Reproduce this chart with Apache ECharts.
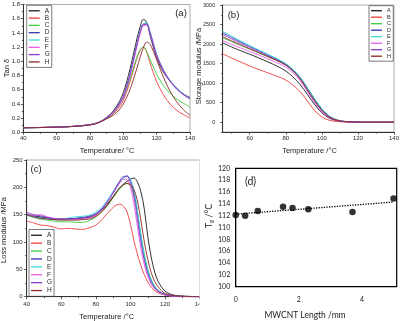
<!DOCTYPE html>
<html><head><meta charset="utf-8">
<script src="https://cdn.jsdelivr.net/npm/echarts@6/dist/echarts.min.js"></script>
<style>html,body{margin:0;padding:0;background:#fff}#c{width:414px;height:321px}</style>
</head><body><div id="c"></div>
<script>
const seriesNames = ['A','B','C','D','E','F','G','H'];
const seriesColors = ['#1a1a1a','#f03c3c','#3ccc3c','#3232b4','#3cdcdc','#e65ae6','#8c3cc8','#8c2828'];

// (a) Tan delta
const tempTan = [40,50,60,70,80,85,90,94,98,100,102,104,106,108,110,112,114,116,118,120,124,128,132,136,140];
const tanA = [0.065,0.068,0.074,0.084,0.108,0.140,0.210,0.30,0.45,0.56,0.71,0.89,1.09,1.30,1.48,1.59,1.55,1.37,1.20,1.05,0.85,0.72,0.62,0.54,0.49];
const tanB = [0.064,0.067,0.073,0.083,0.105,0.135,0.195,0.26,0.37,0.45,0.57,0.71,0.87,1.03,1.15,1.20,1.13,0.98,0.84,0.71,0.53,0.40,0.31,0.25,0.20];
const tanC = [0.064,0.067,0.073,0.083,0.105,0.135,0.195,0.27,0.40,0.48,0.60,0.74,0.90,1.05,1.16,1.20,1.14,1.03,0.92,0.82,0.66,0.55,0.47,0.41,0.36];
const tanD = [0.064,0.067,0.073,0.083,0.106,0.137,0.200,0.28,0.41,0.50,0.64,0.81,1.01,1.22,1.41,1.52,1.53,1.41,1.25,1.09,0.88,0.73,0.62,0.54,0.48];
const tanE = [0.064,0.067,0.073,0.083,0.106,0.137,0.200,0.28,0.41,0.50,0.64,0.82,1.02,1.23,1.42,1.53,1.54,1.42,1.26,1.10,0.88,0.73,0.62,0.54,0.48];
const tanF = [0.065,0.068,0.074,0.084,0.107,0.138,0.200,0.28,0.40,0.49,0.62,0.79,0.98,1.19,1.38,1.50,1.51,1.40,1.24,1.08,0.87,0.72,0.61,0.53,0.47];
const tanG = [0.065,0.068,0.074,0.084,0.107,0.138,0.202,0.29,0.42,0.51,0.65,0.82,1.02,1.23,1.41,1.52,1.52,1.40,1.24,1.08,0.87,0.72,0.61,0.53,0.47];
const tanH = [0.064,0.067,0.072,0.082,0.104,0.132,0.190,0.24,0.33,0.40,0.49,0.60,0.74,0.89,1.05,1.19,1.27,1.24,1.14,1.02,0.78,0.58,0.43,0.32,0.24];

// (b) Storage modulus
const tempStor = [45,50,55,60,65,70,75,80,84,88,92,96,100,104,108,112,116,120,130,140];
const storA = [2030,1925,1830,1740,1645,1545,1440,1310,1160,960,710,450,240,105,42,16,6,2,0,0];
const storB = [1750,1640,1540,1440,1350,1265,1180,1080,950,780,540,300,135,52,20,8,3,1,0,0];
const storC = [2160,2060,1965,1870,1775,1680,1585,1470,1330,1140,870,595,345,160,65,25,9,3,0,0];
const storD = [2290,2170,2055,1945,1835,1725,1615,1490,1340,1140,865,585,335,155,62,24,9,3,0,0];
const storE = [2330,2200,2080,1960,1850,1740,1630,1500,1350,1150,870,590,340,160,65,25,9,3,0,0];
const storF = [2090,1990,1900,1810,1720,1625,1525,1410,1260,1060,780,500,270,120,48,18,7,2,0,0];
const storG = [2250,2130,2020,1915,1810,1700,1590,1465,1310,1100,820,540,300,135,55,20,8,3,0,0];
const storH = [2190,2080,1980,1880,1780,1680,1580,1460,1310,1110,830,550,305,140,55,20,8,3,0,0];

// (c) Loss modulus
const tempLoss = [40,44,48,52,56,60,64,68,72,76,80,84,88,92,94,96,98,100,102,104,106,108,110,112,114,116,120,125,130,135,140];
const lossA = [151,148,146,144,142,143,143,143,144,145,150,160,175,192,200,206,211,215,217,210,192,160,110,72,45,28,10,3,1,0.5,0];
const lossB = [138,135,131,130,127,124,125,124,123,126,131,143,157,168,169,165,155,132,102,78,57,40,27,17,11,7,3,1,0.5,0,0];
const lossC = [149,145,142,140,138,137,137,136,136,139,146,157,172,190,198,204,207,202,186,155,114,78,50,31,19,12,4,1.5,0.5,0.2,0];
const lossD = [149,147,145,143,141,141,142,143,145,147,152,163,180,200,210,218,221,213,192,153,108,72,46,29,18,11,4,1.5,0.5,0.2,0];
const lossE = [150,146,144,142,143,142,144,146,147,149,155,166,183,203,212,217,220,214,194,157,112,75,48,30,18,11,4,1.5,0.5,0.2,0];
const lossF = [152,149,150,146,143,142,142,141,142,144,149,161,180,200,209,215,214,200,170,128,88,58,37,23,14,9,3,1,0.5,0.2,0];
const lossG = [155,150,148,145,143,142,142,143,144,146,151,162,180,202,213,220,220,208,183,142,100,66,42,26,16,10,4,1.5,0.5,0.2,0];
const lossH = [150,146,143,142,141,140,140,140,141,142,147,157,173,192,200,205,207,205,196,175,140,100,68,44,28,18,6,2,1,0.3,0];

// (d) Tg vs MWCNT length
const cntLength = [0,0.3,0.7,1.5,1.8,2.3,3.7,5.0];
const tgValues = [112.1,112.0,112.8,113.5,113.3,113.1,112.6,114.9];

// tick label values
const storTempLabels = [60,80,100,120,140];
const storTempMinor = [50,70,90,110,130];
const storModLabels = [0,500,1000,1500,2000,2500,3000];
const storModMinor = [-250,250,750,1250,1750,2250,2750];

const tanSets = [tanA,tanB,tanC,tanD,tanE,tanF,tanG,tanH];
const storSets = [storA,storB,storC,storD,storE,storF,storG,storH];
const lossSets = [lossA,lossB,lossC,lossD,lossE,lossF,lossG,lossH];

const FONT = 'Liberation Sans';
const TXT = '#2a2a2a';
const LBL = 6;
const zip = (xs, ys) => xs.map((x, i) => [x, ys[i]]);
const tickStyle = { color: '#333', width: 0.8 };

function oAxis(gridIndex, pos, min, max, interval, margin, extra) {
  return Object.assign({
    type: 'value', gridIndex, position: pos, min, max, interval,
    axisLine: { show: true, onZero: false, lineStyle: { color: '#333', width: 1 } },
    axisTick: { show: true, inside: false, length: 2.5, lineStyle: tickStyle },
    minorTick: { show: true, splitNumber: 2, length: 1.5, lineStyle: tickStyle },
    splitLine: { show: false }, minorSplitLine: { show: false },
    axisLabel: { fontSize: LBL, color: TXT, margin, fontFamily: FONT, formatter: v => String(v) }
  }, extra || {});
}

const xAxes = [
  oAxis(0, 'bottom', 40, 140, 20, 3.5),
  oAxis(1, 'bottom', 45, 140, null, 3.5, {
    minorTick: { show: false },
    axisTick: { show: true, length: 2.5, customValues: storTempLabels, lineStyle: tickStyle },
    axisLabel: { fontSize: LBL, color: TXT, margin: 3.5, fontFamily: FONT, customValues: storTempLabels, formatter: v => String(v) }
  }),
  oAxis(2, 'bottom', 40, 140, 20, 5),
  {
    type: 'value', gridIndex: 3, position: 'bottom', min: 0, max: 5.1, interval: 2,
    axisLine: { show: true, onZero: false, lineStyle: { color: '#000', width: 1 } },
    axisTick: { show: false }, splitLine: { show: false },
    axisLabel: { fontSize: 7, color: '#222', margin: 9.5, fontFamily: 'Lato', showMaxLabel: false,
      formatter: v => (Math.abs(v % 2) < 1e-9 ? String(v) : '') }
  },
  {
    type: 'value', gridIndex: 1, position: 'bottom', min: 45, max: 140,
    axisLine: { show: false, onZero: false }, splitLine: { show: false },
    axisTick: { show: true, length: 1.5, customValues: storTempMinor, lineStyle: tickStyle },
    axisLabel: { show: false, customValues: storTempMinor }
  }
];
const yAxes = [
  oAxis(0, 'left', 0, 1.8, 0.2, 3.3, { axisLabel: { fontSize: LBL, color: TXT, margin: 3.3, fontFamily: FONT, formatter: v => v.toFixed(1) } }),
  oAxis(1, 'left', -250, 3000, null, 7.5, {
    minorTick: { show: false },
    axisTick: { show: true, length: 2.5, customValues: storModLabels, lineStyle: tickStyle },
    axisLabel: { fontSize: 5.5, color: TXT, margin: 7.5, fontFamily: FONT, customValues: storModLabels, formatter: v => String(v) }
  }),
  oAxis(2, 'left', 0, 250, 50, 4),
  {
    type: 'value', gridIndex: 3, position: 'left', min: 100, max: 120, interval: 2,
    axisLine: { show: true, onZero: false, lineStyle: { color: '#000', width: 1 } },
    axisTick: { show: false }, splitLine: { show: false },
    axisLabel: { fontSize: 7, color: '#222', margin: 5.5, fontFamily: 'Lato' }
  },
  {
    type: 'value', gridIndex: 1, position: 'left', min: -250, max: 3000,
    axisLine: { show: false, onZero: false }, splitLine: { show: false },
    axisTick: { show: true, length: 1.5, customValues: storModMinor, lineStyle: tickStyle },
    axisLabel: { show: false, customValues: storModMinor }
  }
];

const series = [];
const panels = [[tempTan, tanSets, 0], [tempStor, storSets, 1], [tempLoss, lossSets, 2]];
panels.forEach(([xs, sets, gi]) => {
  seriesNames.forEach((n, i) => {
    series.push({
      type: 'line', name: n, xAxisIndex: gi, yAxisIndex: gi,
      data: zip(xs, sets[i]), smooth: 0.35, symbol: 'none',
      lineStyle: { color: seriesColors[i], width: 0.9 },
      itemStyle: { color: seriesColors[i] }
    });
  });
});

// (d) scatter + linear trendline (least squares from the data)
const n = cntLength.length;
const mx = cntLength.reduce((a, b) => a + b, 0) / n;
const my = tgValues.reduce((a, b) => a + b, 0) / n;
let sxy = 0, sxx = 0;
for (let i = 0; i < n; i++) { sxy += (cntLength[i] - mx) * (tgValues[i] - my); sxx += (cntLength[i] - mx) ** 2; }
const slope = sxy / sxx, icpt = my - slope * mx;
const xLo = Math.min(...cntLength), xHi = Math.max(...cntLength);
series.push({
  type: 'line', name: 'Linear trend', xAxisIndex: 3, yAxisIndex: 3, symbol: 'none',
  data: [[xLo, icpt + slope * xLo], [xHi, icpt + slope * xHi]],
  lineStyle: { color: '#000', width: 1.3, type: [1.3, 1.3] }, z: 3
});
series.push({
  type: 'scatter', name: 'Tg', xAxisIndex: 3, yAxisIndex: 3, clip: false,
  data: zip(cntLength, tgValues), symbolSize: 6.5, itemStyle: { color: '#000' }, z: 4
});

function legend(left, top, fs, lh, gap, iw) {
  return {
    orient: 'vertical', left, top, data: seriesNames, icon: 'rect',
    itemWidth: iw, itemHeight: 1.3, itemGap: gap, padding: [2, 2, 2, 2],
    borderColor: '#444', borderWidth: 0.7,
    textStyle: { fontSize: fs, lineHeight: lh, color: TXT, fontFamily: FONT },
    selectedMode: false
  };
}

const gridOrigin = { show: true, borderColor: '#9a9a9a', borderWidth: 0.8, containLabel: false };
const option = {
  animation: false,
  backgroundColor: '#fff',
  grid: [
    Object.assign({ left: 23.3, top: 4.5, width: 166.7, height: 127.8 }, gridOrigin),
    Object.assign({ left: 222.7, top: 5, width: 171.3, height: 127 }, gridOrigin),
    Object.assign({ left: 26.7, top: 160, width: 173, height: 136.7 }, gridOrigin),
    { left: 235.7, top: 168.3, width: 161, height: 118.4, show: true, borderColor: '#000', borderWidth: 1.2 }
  ],
  xAxis: xAxes,
  yAxis: yAxes,
  legend: [
    legend(26.7, 5.3, 6.5, 7, 0.3, 11),
    legend(369, 5.7, 5.5, 6, 0.5, 11),
    legend(29, 229.5, 6.5, 7.5, 0.4, 11)
  ],
  series,
  graphic: [
    { type: 'rect', left: 199.5, top: 155, shape: { width: 6, height: 166 }, style: { fill: '#fff' }, z: 50 },
    { type: 'text', x: 181, y: 13.3, style: { text: '(a)', fontSize: 9.5, fontFamily: FONT, fill: '#222', align: 'center', verticalAlign: 'middle' }, z: 60 },
    { type: 'text', x: 233.5, y: 15, style: { text: '(b)', fontSize: 9.5, fontFamily: FONT, fill: '#222', align: 'center', verticalAlign: 'middle' }, z: 60 },
    { type: 'text', x: 36, y: 169, style: { text: '(c)', fontSize: 9.5, fontFamily: FONT, fill: '#222', align: 'center', verticalAlign: 'middle' }, z: 60 },
    { type: 'text', x: 250.5, y: 182, style: { text: '(d)', fontSize: 10.5, fontFamily: 'Lato', fill: '#222', align: 'center', verticalAlign: 'middle' }, z: 60 },
    { type: 'text', x: 107, y: 150.5, style: { text: 'Temperature/ °C', fontSize: 7.5, fontFamily: FONT, fill: '#222', align: 'center', verticalAlign: 'middle' }, z: 60 },
    { type: 'text', x: 309.5, y: 150.5, style: { text: 'Temperature /°C', fontSize: 7.5, fontFamily: FONT, fill: '#222', align: 'center', verticalAlign: 'middle' }, z: 60 },
    { type: 'text', x: 106.7, y: 316.7, style: { text: 'Temperature /°C', fontSize: 7.5, fontFamily: FONT, fill: '#222', align: 'center', verticalAlign: 'middle' }, z: 60 },
    { type: 'text', x: 305, y: 315, style: { text: 'MWCNT Length /mm', fontSize: 8.5, fontFamily: 'Lato', fill: '#222', align: 'center', verticalAlign: 'middle' }, z: 60 },
    { type: 'text', x: 7, y: 68, rotation: Math.PI / 2, style: { text: 'Tan δ', fontSize: 7.5, fontFamily: FONT, fill: '#222', align: 'center', verticalAlign: 'middle' }, z: 60 },
    { type: 'text', x: 199, y: 66, rotation: Math.PI / 2, style: { text: 'Storage modulus /MPa', fontSize: 7.5, fontFamily: FONT, fill: '#222', align: 'center', verticalAlign: 'middle' }, z: 60 },
    { type: 'text', x: 4, y: 230, rotation: Math.PI / 2, style: { text: 'Loss modulus /MPa', fontSize: 7.5, fontFamily: FONT, fill: '#222', align: 'center', verticalAlign: 'middle' }, z: 60 },
    { type: 'text', x: 209, y: 216, rotation: Math.PI / 2, style: { text: 'T{s|g} /°C', fontSize: 9, fontFamily: 'Lato', fill: '#222', align: 'center', verticalAlign: 'middle',
      rich: { s: { fontSize: 6, fontFamily: 'Lato', fill: '#222', padding: [5, 0, 0, 0] } } }, z: 60 }
  ]
};
const chart = echarts.init(document.getElementById('c'), null, { renderer: 'canvas' });
chart.setOption(option);
</script></body></html>
